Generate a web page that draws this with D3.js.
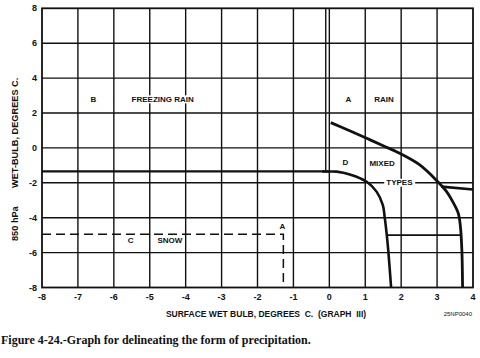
<!DOCTYPE html>
<html><head><meta charset="utf-8">
<script src="https://cdn.jsdelivr.net/npm/d3@7"></script>
<style>body{margin:0;background:#fff}svg{display:block}</style>
</head><body><svg id="c" width="480" height="358"></svg>
<script>
const xTicks = [-8,-7,-6,-5,-4,-3,-2,-1,0,1,2,3,4];
const yTicks = [-8,-6,-4,-2,0,2,4,6,8];
const xGrid = [-7,-6,-5,-4,-3,-2,-1,0,1,2,3];
const yGrid = [-6,-4,-2,0,2,4,6];
// boundary curves [surface wet bulb, 850 hPa wet bulb]
const rainBoundary = [[0.04,1.45],[0.55,1.0],[1.04,0.55],[1.5,0.12],[1.87,-0.22],[2.5,-0.95],[3.02,-1.94],[3.27,-2.52],[3.41,-2.99],[3.59,-3.75],[3.65,-4.52],[3.69,-5.86],[3.71,-8]];
const snowFlat = [[-8,-1.35],[0.0,-1.35]];
const snowBoundary = [[-0.2,-1.35],[0.0,-1.35],[0.2,-1.36],[0.57,-1.52],[1.04,-1.94],[1.32,-2.52],[1.49,-3.28],[1.54,-3.95],[1.6,-5.0],[1.64,-5.86],[1.72,-8]];
const freezingBoundary = [[-0.1,8],[-0.1,-1.35]];
const typesLine = [[3.12,-2.22],[4,-2.38]];
const mixedLine = [[1.6,-5.0],[3.66,-5.0]];
const snowDashed = [[-8,-4.95],[-1.28,-4.95],[-1.28,-8]];
const labels = [
  {t:"B", x:-6.57, y:2.8},
  {t:"FREEZING RAIN", x:-4.64, y:2.8},
  {t:"A", x:0.53, y:2.8},
  {t:"RAIN", x:1.52, y:2.8},
  {t:"D", x:0.45, y:-0.83},
  {t:"MIXED", x:1.47, y:-0.9},
  {t:"TYPES", x:1.95, y:-1.98},
  {t:"C", x:-5.53, y:-5.29},
  {t:"SNOW", x:-4.44, y:-5.29},
  {t:"A", x:-1.31, y:-4.48}
];
const xTitle = "SURFACE WET BULB, DEGREES  C.  (GRAPH  III)";
const yTitleA = "850 hPa";
const yTitleB = "WET-BULB, DEGREES C.";
const code = "25NP0040";
const caption = "Figure 4-24.-Graph for delineating the form of precipitation.";

const svg = d3.select("#c");
const x = d3.scaleLinear().domain([-8,4]).range([42,473]);
const y = d3.scaleLinear().domain([-8,8]).range([287.5,8.3]);
const ink = "#111";
const sans = "'Liberation Sans', Arial, sans-serif";

const g = svg.append("g");
// grid
g.selectAll(".vx").data(xGrid).enter().append("line")
  .attr("x1",d=>x(d)).attr("x2",d=>x(d)).attr("y1",y(8)).attr("y2",y(-8))
  .attr("stroke",ink).attr("stroke-width",1.4);
g.selectAll(".hy").data(yGrid).enter().append("line")
  .attr("y1",d=>y(d)).attr("y2",d=>y(d)).attr("x1",x(-8)).attr("x2",x(4))
  .attr("stroke",ink).attr("stroke-width",1.4);
// frame
g.append("rect").attr("x",x(-8)).attr("y",y(8)).attr("width",x(4)-x(-8)).attr("height",y(-8)-y(8))
  .attr("fill","none").attr("stroke",ink).attr("stroke-width",1.8);

const line = d3.line().x(d=>x(d[0])).y(d=>y(d[1]));
const curve = d3.line().x(d=>x(d[0])).y(d=>y(d[1])).curve(d3.curveCatmullRom.alpha(0.5));

g.append("path").attr("d",line(snowDashed)).attr("fill","none").attr("stroke",ink)
  .attr("stroke-width",1.5).attr("stroke-dasharray","9,5");
g.append("path").attr("d",line(freezingBoundary)).attr("fill","none").attr("stroke",ink).attr("stroke-width",1.4);
g.append("path").attr("d",line(mixedLine)).attr("fill","none").attr("stroke",ink).attr("stroke-width",1.8);
g.append("path").attr("d",line(typesLine)).attr("fill","none").attr("stroke",ink).attr("stroke-width",2.6);
g.append("path").attr("d",line(snowFlat)).attr("fill","none").attr("stroke",ink).attr("stroke-width",2.2);
g.append("path").attr("d",curve(snowBoundary)).attr("fill","none").attr("stroke",ink).attr("stroke-width",2.6);
g.append("path").attr("d",curve(rainBoundary)).attr("fill","none").attr("stroke",ink).attr("stroke-width",2.8);

// region labels with white backing
labels.forEach(l=>{
  const t = g.append("text").attr("x",x(l.x)).attr("y",y(l.y)).attr("dy","0.35em")
    .attr("text-anchor","middle").attr("font-family",sans).attr("font-weight","bold")
    .attr("font-size",8).attr("fill",ink).text(l.t);
  const b = t.node().getBBox();
  g.insert("rect", function(){return t.node();}).attr("x",b.x-2).attr("y",b.y+0.5).attr("width",b.width+4).attr("height",b.height-1).attr("fill","#fff");
});

// ticks
svg.selectAll(".xt").data(xTicks).enter().append("text")
  .attr("x",d=>x(d)).attr("y",300).attr("text-anchor","middle")
  .attr("font-family",sans).attr("font-weight","bold").attr("font-size",9).attr("fill",ink)
  .text(d=>d);
svg.selectAll(".yt").data(yTicks).enter().append("text")
  .attr("x",37).attr("y",d=>y(d)).attr("dy","0.35em").attr("text-anchor","end")
  .attr("font-family",sans).attr("font-weight","bold").attr("font-size",9).attr("fill",ink)
  .text(d=>d);

svg.append("text").attr("x",266).attr("y",317).attr("text-anchor","middle")
  .attr("font-family",sans).attr("font-weight","bold").attr("font-size",8.5).attr("fill",ink)
  .style("white-space","pre").text(xTitle);
svg.append("text").attr("x",472).attr("y",316).attr("text-anchor","end")
  .attr("font-family",sans).attr("font-size",6).attr("fill",ink).text(code);
svg.append("text").attr("transform","translate(18,241) rotate(-90)").attr("text-anchor","start")
  .attr("font-family",sans).attr("font-weight","bold").attr("font-size",9.2).attr("fill",ink).text(yTitleA);
svg.append("text").attr("transform","translate(18,188) rotate(-90)").attr("text-anchor","start")
  .attr("font-family",sans).attr("font-weight","bold").attr("font-size",9.2).attr("fill",ink).text(yTitleB);

svg.append("text").attr("x",1).attr("y",344)
  .attr("font-family","'Liberation Serif', 'Times New Roman', serif").attr("font-weight","bold")
  .attr("font-size",12).attr("fill",ink).text(caption);
</script></body></html>
